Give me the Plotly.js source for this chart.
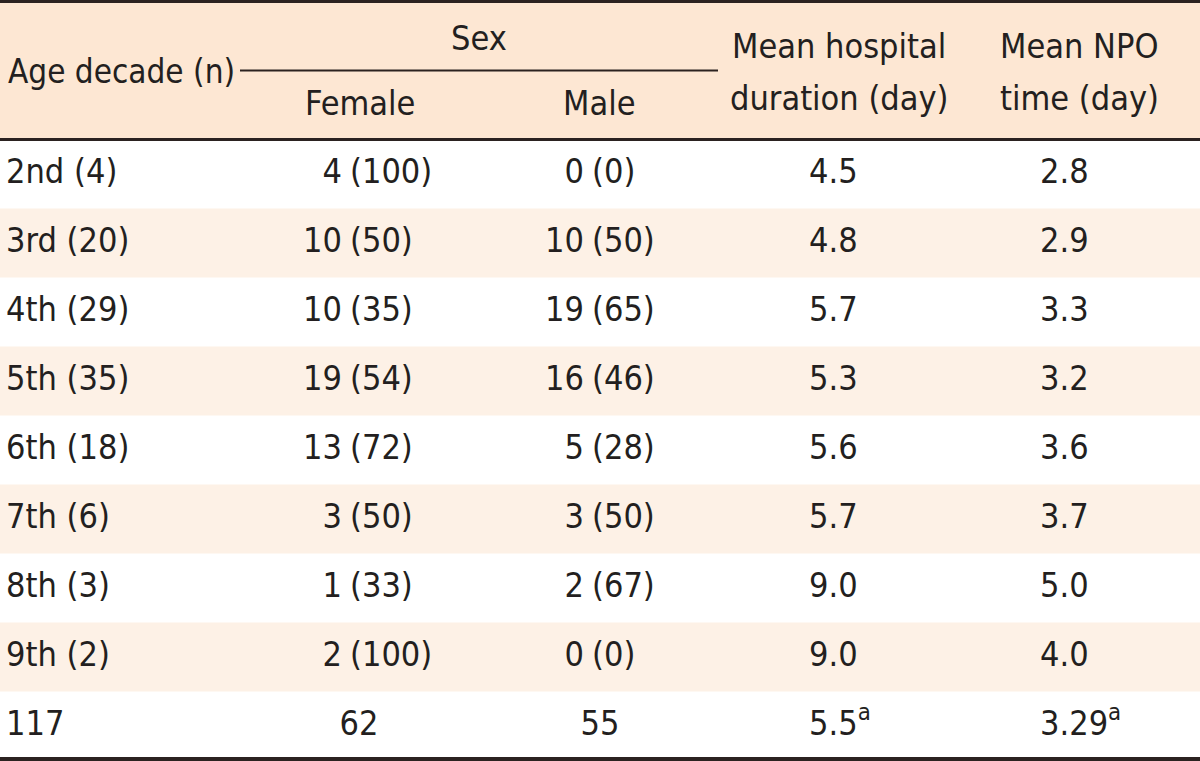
<!DOCTYPE html>
<html>
<head>
<meta charset="utf-8">
<script src="https://cdn.plot.ly/plotly-3.0.1.min.js"></script>
<style>
  html, body { margin: 0; padding: 0; background: #ffffff; }
  #chart { width: 1200px; height: 761px; }
</style>
</head>
<body>
<div id="chart"></div>
<script>
// ---- Data ----
const ageLabels = ["2nd (4)", "3rd (20)", "4th (29)", "5th (35)", "6th (18)", "7th (6)", "8th (3)", "9th (2)"];
const femaleN = [4, 10, 10, 19, 13, 3, 1, 2];
const femalePct = [100, 50, 35, 54, 72, 50, 33, 100];
const maleN = [0, 10, 19, 16, 5, 3, 2, 0];
const malePct = [0, 50, 65, 46, 28, 50, 67, 0];
const hospitalDays = [4.5, 4.8, 5.7, 5.3, 5.6, 5.7, 9.0, 9.0];
const npoDays = [2.8, 2.9, 3.3, 3.2, 3.6, 3.7, 5.0, 4.0];
const totalLabel = "117";
const totalFemale = 62;
const totalMale = 55;
const totalHospital = 5.5;
const totalNpo = 3.29;
const totalNote = "a";
const headerAge = "Age decade (n)";
const headerSex = "Sex";
const headerFemale = "Female";
const headerMale = "Male";
const headerHospital = ["Mean hospital", "duration (day)"];
const headerNpo = ["Mean NPO", "time (day)"];

// ---- Layout constants ----
const FONT = "'Liberation Sans Narrow', 'DejaVu Sans Condensed', 'Roboto Condensed', Arial Narrow, sans-serif";
const FS = 34;
const TXT = "#231f20";
const LINE = "#2b2220";
const HEAD_BG = "#fde7d3";
const STRIPE = "#fdf1e6";
const col = { age: 6, fParen: 350, mParen: 592, fTotal: 359, mTotal: 600, hosp: 809, npo: 1040, sex: 479, female: 360, male: 599, hospHead: 839, npoHead: 1079 };
const PX = 69;        // pixels per row unit
const TOP_PAD = 1.5;  // pixels above header top line
const yTop = -2 - TOP_PAD / PX;
const yBottom = yTop + 761 / PX;
const py = p => (p - TOP_PAD) / PX - 2; // pixel -> y unit (layout helper)

const nRows = ageLabels.length;
const rowsY = ageLabels.map((_, i) => i + 0.5);
const totalY = nRows + 0.5;

const font = { family: FONT, size: FS, color: TXT };
function textTrace(xs, ys, texts, pos) {
  return { type: "scatter", mode: "text", x: xs, y: ys, text: texts, textposition: pos,
           textfont: font, hoverinfo: "skip", showlegend: false, cliponaxis: false };
}
const same = (v) => ageLabels.map(() => v);

const traces = [
  textTrace(same(col.age).concat([col.age]), rowsY.concat([totalY]), ageLabels.concat([totalLabel]), "middle right"),
  textTrace(same(col.fParen - 8), rowsY, femaleN.map(String), "middle left"),
  textTrace(same(col.fParen), rowsY, femalePct.map(v => "(" + v + ")"), "middle right"),
  textTrace(same(col.mParen - 8), rowsY, maleN.map(String), "middle left"),
  textTrace(same(col.mParen), rowsY, malePct.map(v => "(" + v + ")"), "middle right"),
  textTrace([col.fTotal, col.mTotal], [totalY, totalY], [String(totalFemale), String(totalMale)], "middle center"),
  textTrace(same(col.hosp).concat([col.hosp]), rowsY.concat([totalY]),
            hospitalDays.map(v => v.toFixed(1)).concat([totalHospital.toFixed(1) + "<sup>" + totalNote + "</sup>"]), "middle right"),
  textTrace(same(col.npo).concat([col.npo]), rowsY.concat([totalY]),
            npoDays.map(v => v.toFixed(1)).concat([totalNpo.toFixed(2) + "<sup>" + totalNote + "</sup>"]), "middle right")
];

const shapes = [
  { type: "rect", xref: "x", yref: "y", x0: 0, x1: 1200, y0: yTop, y1: 0, fillcolor: HEAD_BG, line: { width: 0 }, layer: "below" }
];
for (let i = 0; i <= nRows; i++) {
  if (i % 2 === 1) {
    shapes.push({ type: "rect", xref: "x", yref: "y", x0: 0, x1: 1200, y0: i, y1: i + 1, fillcolor: STRIPE, line: { width: 0 }, layer: "below" });
  }
}
shapes.push(
  { type: "line", xref: "x", yref: "y", x0: 0, x1: 1200, y0: -2, y1: -2, line: { color: LINE, width: 3 } },
  { type: "line", xref: "x", yref: "y", x0: 0, x1: 1200, y0: 0, y1: 0, line: { color: LINE, width: 3 } },
  { type: "line", xref: "x", yref: "y", x0: 240, x1: 718, y0: -1, y1: -1, line: { color: LINE, width: 2 } },
  { type: "line", xref: "x", yref: "y", x0: 0, x1: 1200, y0: py(759), y1: py(759), line: { color: LINE, width: 4 } }
);

function ann(text, x, y, anchor, size) {
  return { text: text, x: x, y: y, xref: "x", yref: "y", xanchor: anchor, yanchor: "middle", showarrow: false,
           font: { family: FONT, size: size || FS, color: TXT } };
}
const annotations = [
  ann(headerAge, 6, py(71), "left", 33),
  ann(headerSex, col.sex, py(38), "center"),
  ann(headerFemale, col.female, py(103), "center"),
  ann(headerMale, col.male, py(103), "center"),
  ann(headerHospital[0], col.hospHead, py(46), "center"),
  ann(headerHospital[1], col.hospHead, py(98), "center"),
  ann(headerNpo[0], col.npoHead, py(46), "center"),
  ann(headerNpo[1], col.npoHead, py(98), "center")
];

const layout = {
  width: 1200, height: 761,
  margin: { l: 0, r: 0, t: 0, b: 0, pad: 0 },
  paper_bgcolor: "#ffffff", plot_bgcolor: "#ffffff",
  xaxis: { range: [0, 1200], visible: false, fixedrange: true },
  yaxis: { range: [yBottom, yTop], visible: false, fixedrange: true },
  shapes: shapes,
  annotations: annotations,
  showlegend: false,
  hovermode: false
};

Plotly.newPlot("chart", traces, layout, { staticPlot: true, displayModeBar: false });
</script>
</body>
</html>
